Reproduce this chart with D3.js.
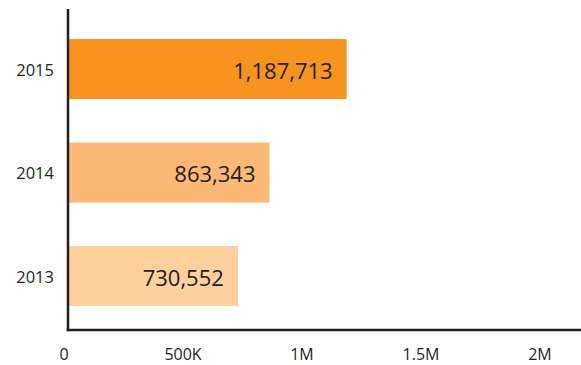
<!DOCTYPE html>
<html>
<head>
<meta charset="utf-8">
<script src="https://cdn.jsdelivr.net/npm/d3@7"></script>
<style>
  html, body { margin: 0; padding: 0; background: #fff; }
  svg { display: block; }
  text { font-family: "Open Sans", "Noto Sans", sans-serif; fill: #231f20; }
</style>
</head>
<body>
<svg id="chart" width="581" height="365"></svg>
<script>
const years = ["2015", "2014", "2013"];
const values = [1187713, 863343, 730552];
const barColors = ["#f7941e", "#fcb875", "#fdd09c"];
const tickValues = [0, 500000, 1000000, 1500000, 2000000];
const tickLabels = ["0", "500K", "1M", "1.5M", "2M"];

const svg = d3.select("#chart");
const axisX = 68, axisBottom = 330;

const x = d3.scaleLinear().domain([0, 2000000]).range([64, 540]);
const y = d3.scaleBand().domain(years).range([17.3, 327.8]).paddingInner(0.42).paddingOuter(0.21);

// bars
svg.selectAll("rect.bar").data(years).enter().append("rect")
  .attr("class", "bar")
  .attr("x", axisX)
  .attr("y", d => y(d))
  .attr("width", (d, i) => x(values[i]) - axisX)
  .attr("height", y.bandwidth())
  .attr("fill", (d, i) => barColors[i]);

// value labels
const fmt = d3.format(",");
svg.selectAll("text.val").data(years).enter().append("text")
  .attr("class", "val")
  .attr("x", (d, i) => x(values[i]) - 14)
  .attr("y", d => y(d) + y.bandwidth() / 2 + 9.5)
  .attr("text-anchor", "end")
  .attr("font-size", 22)
  .text((d, i) => fmt(values[i]));

// year labels
svg.selectAll("text.yr").data(years).enter().append("text")
  .attr("class", "yr")
  .attr("x", 54)
  .attr("y", d => y(d) + y.bandwidth() / 2 + 6.5)
  .attr("text-anchor", "end")
  .attr("font-size", 16.5)
  .text(d => d);

// x tick labels
svg.selectAll("text.tick").data(tickValues).enter().append("text")
  .attr("class", "tick")
  .attr("x", d => x(d))
  .attr("y", 360)
  .attr("text-anchor", "middle")
  .attr("font-size", 16)
  .text((d, i) => tickLabels[i]);

// axis lines
svg.append("line")
  .attr("x1", axisX).attr("x2", axisX)
  .attr("y1", 9).attr("y2", axisBottom + 1.25)
  .attr("stroke", "#231f20").attr("stroke-width", 2.5);
svg.append("line")
  .attr("x1", axisX - 1.25).attr("x2", 581)
  .attr("y1", axisBottom).attr("y2", axisBottom)
  .attr("stroke", "#231f20").attr("stroke-width", 2.5);
</script>
</body>
</html>
